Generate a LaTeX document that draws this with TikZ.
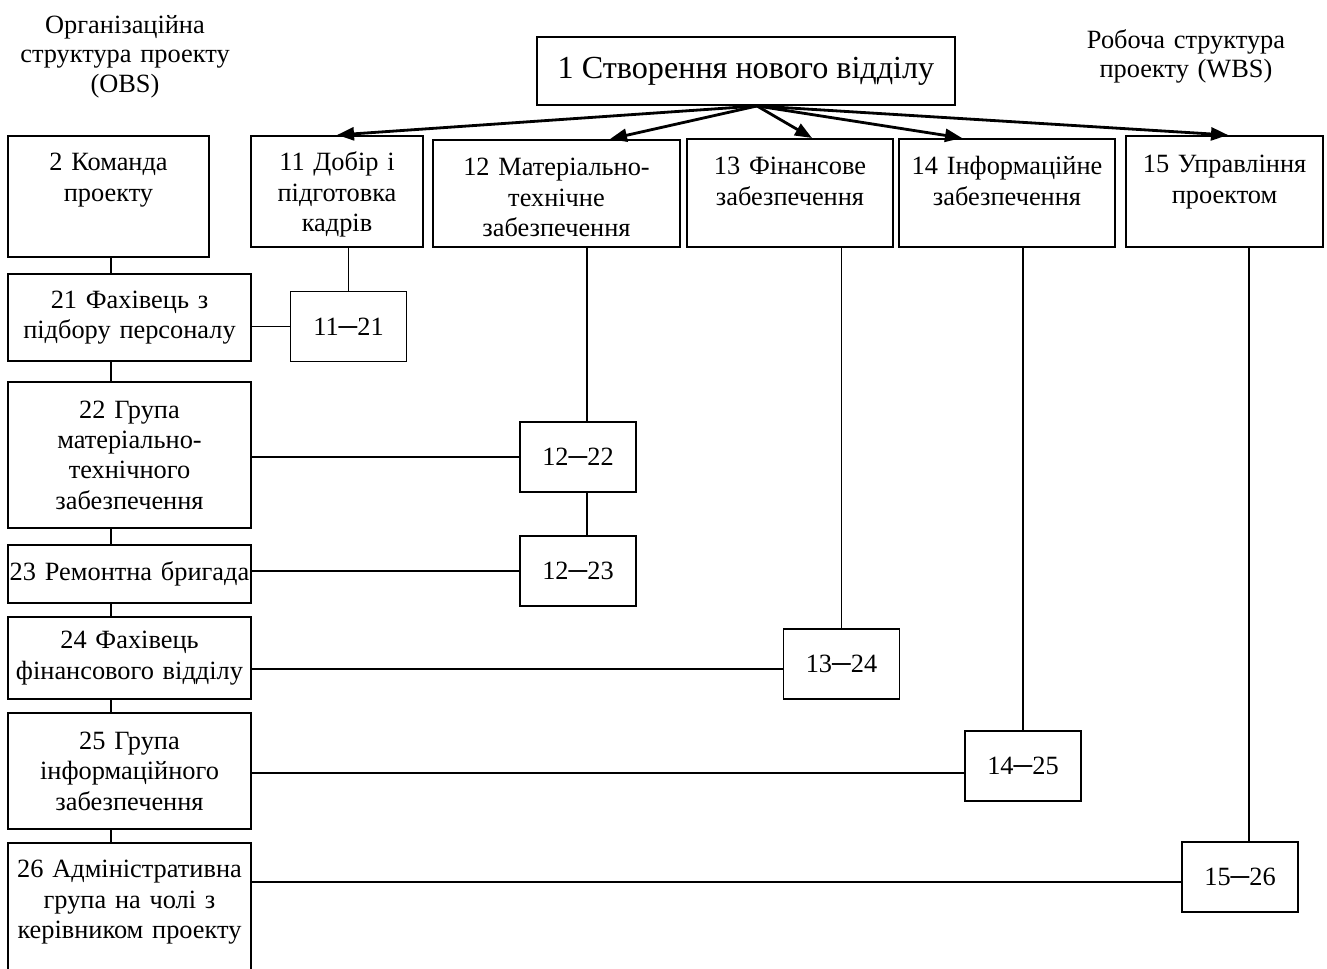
\documentclass[tikz,border=0pt]{standalone}
\usepackage{fontspec}
\setmainfont{Liberation Serif}
\usetikzlibrary{arrows.meta, calc}

\begin{document}
\begin{tikzpicture}[x=0.2mm, y=-0.2mm, line width=1.1pt,
        box/.style={draw, align=center, inner sep=0pt, font=\fontsize{15pt}{17.3pt}\selectfont},
        topbox/.style={box, anchor=north, text height=7mm},
        midbox/.style={box, minimum width=48.6mm, text width=48mm},
        pair/.style={box, minimum width=23.2mm, minimum height=14mm},
        heading/.style={anchor=base, align=center, text width=70mm, font=\fontsize{15pt}{17pt}\selectfont},
        arr/.style={-{Triangle[length=3.4mm, width=2.6mm]}, line width=1.6pt}]
    \useasboundingbox (0,0) rectangle (1327,968);

    \node[heading] (obs) at (125,33) {Організаційна\\структура проекту\\(OBS)};
    \node[heading] (wbs) at (1186,48) {Робоча структура\\проекту (WBS)\hspace*{12mm}};

    \node[draw, minimum width=83.6mm, minimum height=13.6mm, inner sep=0pt,
        font=\fontsize{18.3pt}{22pt}\selectfont] (root) at (746,71) {1 Створення нового відділу};
    \coordinate (fork) at ([xshift=2.2mm]root.south);

    \node[topbox, minimum width=34.4mm, text width=33mm, text depth=15.2mm] (b11) at (337,135) {11 Добір і\\підготовка\\кадрів};
    \node[topbox, minimum width=49.4mm, text width=48mm, text height=7.2mm, text depth=14.2mm] (b12) at (556.5,139) {12 Матеріально-\\технічне\\забезпечення};
    \node[topbox, minimum width=41.2mm, text width=40mm, text height=7.2mm, text depth=14.4mm] (b13) at (790,138) {13 Фінансове\\забезпечення};
    \node[topbox, minimum width=43.2mm, text width=42mm, text height=7.2mm, text depth=14.4mm] (b14) at (1007,138) {14 Інформаційне\\забезпечення};
    \node[topbox, minimum width=39.4mm, text width=38mm, text height=7.4mm, text depth=14.8mm] (b15) at (1224.5,135) {15 Управління\\проектом};

    \foreach \b/\s in {b11/0, b12/10.7, b13/4.4, b14/-9, b15/0.7}
        \draw[arr] (fork) -- ([xshift=\s mm]\b.north);

    \node[topbox, minimum width=40.2mm, text width=39mm, text depth=17.2mm] (b2) at (108.5,135) {2 Команда\\проекту};
    \node[midbox, minimum height=17.4mm] (b21) at (129.5,317.5) {21 Фахівець з\\підбору персоналу};
    \node[midbox, minimum height=29.2mm] (b22) at (129.5,455) {22 Група\\матеріально-\\технічного\\забезпечення};
    \node[midbox, minimum height=11.6mm] (b23) at (129.5,574) {23 Ремонтна бригада};
    \node[midbox, minimum height=16.4mm] (b24) at (129.5,658) {24 Фахівець\\фінансового відділу};
    \node[midbox, minimum height=23.2mm] (b25) at (129.5,771) {25 Група\\інформаційного\\забезпечення};
    \node[topbox, minimum width=48.6mm, text width=48mm, text depth=19.6mm] (b26) at (129.5,842) {26 Адміністративна\\група на чолі з\\керівником проекту};

    \coordinate (spine) at (111,0);
    \foreach \a/\b in {b2/b21, b21/b22, b22/b23, b23/b24, b24/b25, b25/b26}
        \draw (\a.south -| spine) -- (\b.north -| spine);

    \node[pair] (c1121) at (348.5,326.5) {11─21};
    \node[pair] (c1222) at (578,457) {12─22};
    \node[pair] (c1223) at (578,571) {12─23};
    \node[pair] (c1324) at (841.5,664) {13─24};
    \node[pair] (c1425) at (1023,766) {14─25};
    \node[pair] (c1526) at (1240,877) {15─26};

    \draw (b11.south -| c1121.north) -- (c1121.north);
    \draw ([xshift=1.8mm]b12.south -| c1222.north) -- ([xshift=1.8mm]c1222.north);
    \draw ([xshift=1.8mm]c1222.south) -- ([xshift=1.8mm]c1223.north);
    \draw (b13.south -| c1324.north) -- (c1324.north);
    \draw (b14.south -| c1425.north) -- (c1425.north);
    \draw ([xshift=1.8mm]b15.south -| c1526.north) -- ([xshift=1.8mm]c1526.north);

    \draw (b21.east |- c1121.west) -- (c1121.west);
    \draw (b22.east |- c1222.west) -- (c1222.west);
    \draw (b23.east |- c1223.west) -- (c1223.west);
    \draw ([yshift=-1mm]c1324.west) -- ([yshift=-1mm]c1324.west -| b24.east);
    \draw ([yshift=-1.4mm]c1425.west) -- ([yshift=-1.4mm]c1425.west -| b25.east);
    \draw ([yshift=-1mm]c1526.west) -- ([yshift=-1mm]c1526.west -| b26.east);
\end{tikzpicture}
\end{document}
